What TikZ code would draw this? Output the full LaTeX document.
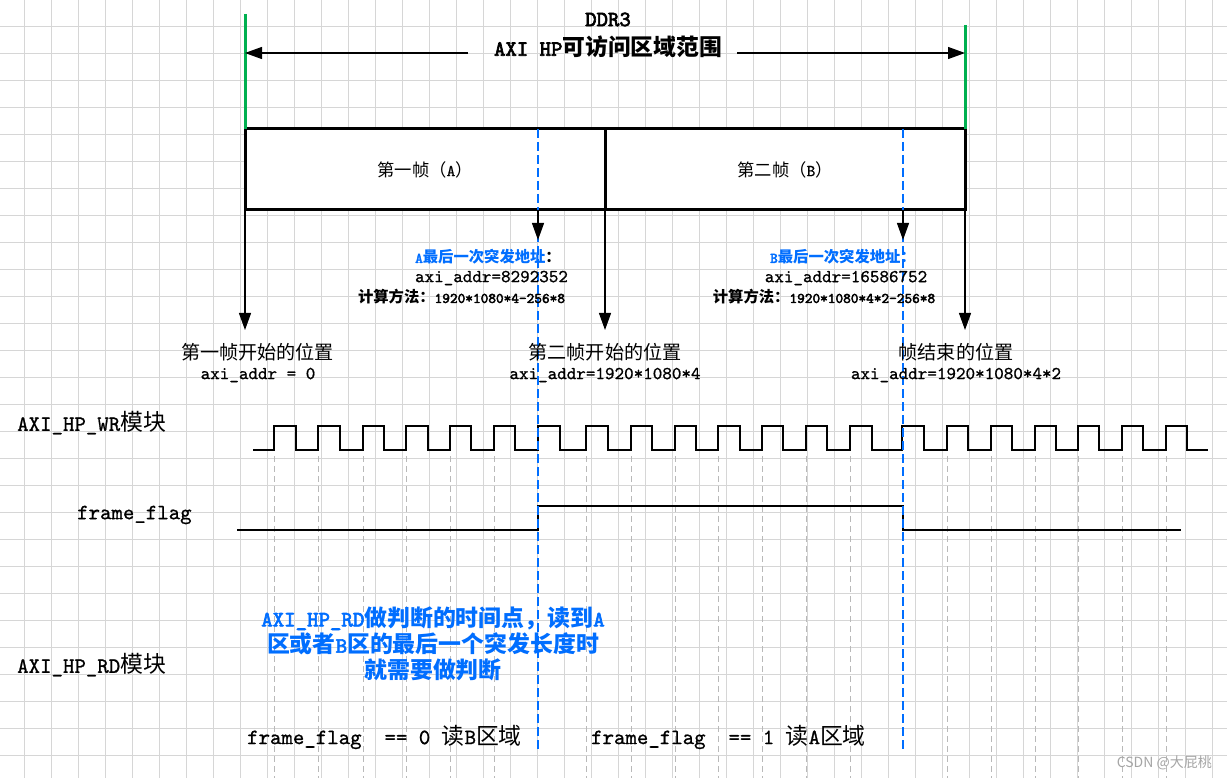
\documentclass[tikz,border=0pt]{standalone}
\usepackage{fontspec}
\setmainfont{lmmono10-regular.otf}[UprightFeatures={FakeBold=0.9}, BoldFont=lmmono10-regular.otf, BoldFeatures={FakeBold=3}, WordSpace={1,0,0}]
\newfontfamily\zh[Scale=1.05]{Noto Sans CJK SC}
\newfontfamily\wmfont{Noto Sans CJK SC}
\usetikzlibrary{arrows.meta}
\definecolor{gridc}{RGB}{214,214,214}
\definecolor{blueC}{RGB}{0,110,255}
\definecolor{greenC}{RGB}{0,176,80}
\definecolor{dashgray}{RGB}{185,185,185}
\definecolor{wmgray}{RGB}{165,165,165}
\begin{document}
\begin{tikzpicture}[x=1pt,y=-1pt,
  gridline/.style={draw=gridc, line width=0.9pt},
  framebox/.style={draw, line width=3pt, fill=white, outer sep=0pt, minimum width=360pt, minimum height=81pt, inner sep=0pt, font=\fontsize{16.5}{19}\selectfont},
  greenline/.style={draw=greenC, line width=3pt},
  arr/.style={draw=black, line width=1.2pt, -{Triangle[length=17pt,width=12pt]}},
  bdash/.style={draw=blueC, line width=1.4pt, dash pattern=on 9pt off 4pt},
  gdash/.style={draw=dashgray, line width=1pt, dash pattern=on 6pt off 4pt},
  wave/.style={draw=black, line width=1.6pt, line join=miter},
  ttl/.style={inner sep=0pt, font=\fontsize{21.7}{27}\selectfont\bfseries},
  big/.style={inner sep=0pt, font=\fontsize{21.8}{26.5}\selectfont},
  lab/.style={inner sep=0pt, font=\fontsize{18.2}{23}\selectfont},
  sm/.style={inner sep=0pt, font=\fontsize{14.6}{17}\selectfont\bfseries},
  note/.style={inner sep=0pt, align=center, text=blueC, font=\fontsize{21.8}{26.3}\selectfont\bfseries},
  wm/.style={inner sep=0pt, text=wmgray, font=\wmfont\fontsize{14}{16}\selectfont}
]
\useasboundingbox (0,0) rectangle (1227,778);
\fill[white] (0,0) rectangle (1227,778);
% grid
\foreach \k in {0,...,44} \draw[gridline] ({24.3+27*\k},0) -- ({24.3+27*\k},778);
\foreach \k in {0,...,27} \draw[gridline] (0,{26.3+27*\k}) -- (1227,{26.3+27*\k});
% grey dashed timing lines
\foreach \x in {274,318,363,406,450,494,586,631,675,718,762,806,850,947,991,1035,1078,1122,1166}
  \draw[gdash] (\x,456) -- (\x,778);
% frame boxes
\node[framebox] (fA) at (425,169.5) {{\zh 第一帧（}A{\zh ）}};
\node[framebox] (fB) at (785,169.5) {{\zh 第二帧（}B{\zh ）}};
% green limits
\coordinate (gLt) at (245,14);
\coordinate (gRt) at (965,25);
\draw[greenline] (gLt) -- (fA.north west);
\draw[greenline] (gRt) -- (fB.north east);
% title
\node[ttl] (ddr) at (608,19.5) {DDR3};
\node[ttl] (axi) at (608,47) {AXI HP{\zh 可访问区域范围}};
\coordinate (aL) at (468,53);
\coordinate (aR) at (737,53);
\coordinate (gLm) at (245,53);
\coordinate (gRm) at (965,53);
\draw[arr] (aL) -- (gLm);
\draw[arr] (aR) -- (gRm);
% position arrows
\coordinate (p1) at (245,330);
\coordinate (p2) at (605,330);
\coordinate (p3) at (965,330);
\draw[arr] (fA.south west) -- (p1);
\draw[arr] (fA.south east) -- (p2);
\draw[arr] (fB.south east) -- (p3);
% waveforms
\draw[wave] (253,450)
  \foreach \r/\f in {274/296,318/340,363/384,406/428,450/471,494/515,538/560,586/608,631/652,675/696,718/740,762/783,806/827,850/872,902/924,947/968,991/1012,1035/1056,1078/1099,1122/1143,1166/1187}
  { -- (\r,450) -- (\r,426) -- (\f,426) -- (\f,450) } -- (1208,450);
\draw[wave] (237,530) -- (538,530) -- (538,506) -- (903,506) -- (903,530) -- (1181,530);
% blue dashed
\coordinate (dAt) at (538,129);
\coordinate (dAb) at (538,750);
\coordinate (dBt) at (903,129);
\coordinate (dBb) at (903,750);
\draw[bdash] (dAt) -- (dAb);
\draw[bdash] (dBt) -- (dBb);
\coordinate (qA) at (538,240);
\coordinate (qB) at (903,240);
\draw[arr] (dAt |- fA.south) -- (qA);
\draw[arr] (dBt |- fB.south) -- (qB);
% last burst labels
\node[sm, text=blueC] (aLast) at (488,257) {A{\zh 最后一次突发地址}{\color{black}\zh ：}};
\node[lab] (aAddr) at (491.5,278) {axi\_addr=8292352};
\node[sm] (aCalc) at (461.5,297) {{\zh 计算方法：}1920*1080*4-256*8};
\node[sm, text=blueC] (bLast) at (843,257) {B{\zh 最后一次突发地址：}};
\node[lab] (bAddr) at (846,278) {axi\_addr=16586752};
\node[sm] (bCalc) at (824,297) {{\zh 计算方法：}1920*1080*4*2-256*8};
% position labels
\node[lab] (s1a) at (257.5,352) {\zh 第一帧开始的位置};
\node[lab] (s1b) at (258,375) {axi\_addr = 0};
\node[lab] (s2a) at (605,352) {\zh 第二帧开始的位置};
\node[lab] (s2b) at (605,375) {axi\_addr=1920*1080*4};
\node[lab] (s3a) at (956,352) {\zh 帧结束的位置};
\node[lab] (s3b) at (956,375) {axi\_addr=1920*1080*4*2};
% left labels
\node[big, anchor=west] (wr) at (17,423) {AXI\_HP\_WR{\zh 模块}};
\node[big, anchor=west] (ff) at (77,515) {frame\_flag};
\node[big, anchor=west] (rd) at (17,665) {AXI\_HP\_RD{\zh 模块}};
% note
\node[note] (nt) at (433,644) {AXI\_HP\_RD{\zh 做判断的时间点，读到}A\\{\zh 区或者}B{\zh 区的最后一个突发长度时}\\{\zh 就需要做判断}};
% read conditions
\node[big] (r0) at (384.5,737) {frame\_flag\ \ == 0 {\zh 读}B{\zh 区域}};
\node[big] (r1) at (728.5,737) {frame\_flag\ \ == 1 {\zh 读}A{\zh 区域}};
% watermark
\node[wm, anchor=east] (wmk) at (1212,763) {CSDN @大屁桃};
\end{tikzpicture}
\end{document}
